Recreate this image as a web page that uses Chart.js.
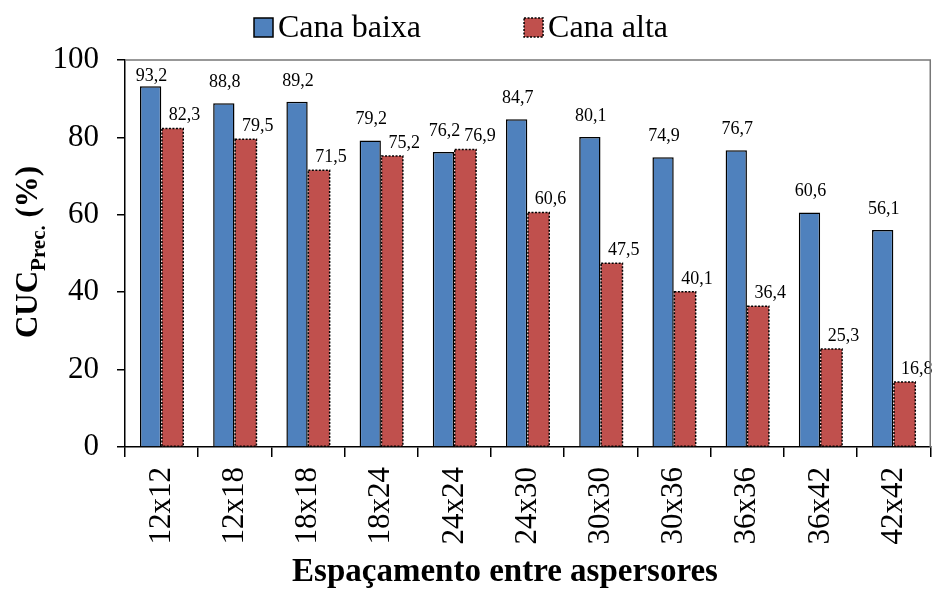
<!DOCTYPE html>
<html>
<head>
<meta charset="utf-8">
<script src="https://cdn.jsdelivr.net/npm/chart.js@4.4.1/dist/chart.umd.min.js"></script>
<style>
  html, body { margin: 0; padding: 0; background: #fff; }
  #wrap { width: 941px; height: 595px; }
</style>
</head>
<body>
<div id="wrap"><canvas id="chart" width="941" height="595"></canvas></div>
<script>
const espacamentos = ['12x12', '12x18', '18x18', '18x24', '24x24', '24x30', '30x30', '30x36', '36x36', '36x42', '42x42'];
const canaBaixa = [93.2, 88.8, 89.2, 79.2, 76.2, 84.7, 80.1, 74.9, 76.7, 60.6, 56.1];
const canaAlta = [82.3, 79.5, 71.5, 75.2, 76.9, 60.6, 47.5, 40.1, 36.4, 25.3, 16.8];
const yTicks = [0, 20, 40, 60, 80, 100];

const serif = "'Liberation Serif', 'Times New Roman', serif";
const azul = '#4F81BD';
const vermelho = '#C0504D';
const pontilhado = [2, 1.5];

const fmt = v => v.toFixed(1).replace('.', ',');

// borda pontilhada da serie "Cana alta" + rotulos de valor
const barExtras = {
  id: 'barExtras',
  afterDatasetsDraw(chart) {
    const ctx = chart.ctx;
    const area = chart.chartArea;
    ctx.save();
    const alta = chart.getDatasetMeta(1);
    ctx.strokeStyle = '#000';
    ctx.lineWidth = 1.5;
    ctx.setLineDash(pontilhado);
    alta.data.forEach(bar => {
      ctx.strokeRect(bar.x - bar.width / 2, bar.y, bar.width, bar.base - bar.y);
    });
    ctx.setLineDash([]);

    ctx.fillStyle = '#000';
    ctx.font = '18px ' + serif;
    ctx.textAlign = 'center';
    ctx.textBaseline = 'alphabetic';
    const baixaPos = [];
    chart.getDatasetMeta(0).data.forEach((bar, i) => {
      const t = fmt(canaBaixa[i]);
      const y = Math.max(bar.y - 16, area.top + 21);
      const x = bar.x + 1;
      ctx.fillText(t, x, y);
      baixaPos.push({ right: x + ctx.measureText(t).width / 2, y });
    });
    alta.data.forEach((bar, i) => {
      const t = fmt(canaAlta[i]);
      const w = ctx.measureText(t).width;
      let x = bar.x + 12;
      const y = bar.y - 8;
      const b = baixaPos[i];
      // evita sobrepor o rotulo da outra serie
      if (Math.abs(y - b.y) < 18 && x - w / 2 < b.right + 4) {
        x = b.right + 4 + w / 2;
      }
      ctx.fillText(t, x, y);
    });
    ctx.restore();
  }
};

// moldura, legenda e titulos dos eixos (y com subscrito)
const frameAndTitle = {
  id: 'frameAndTitle',
  afterDraw(chart) {
    const ctx = chart.ctx;
    const a = chart.chartArea;
    ctx.save();
    ctx.strokeStyle = '#777';
    ctx.lineWidth = 1.5;
    ctx.beginPath();
    ctx.moveTo(a.left, a.top);
    ctx.lineTo(a.right, a.top);
    ctx.lineTo(a.right, a.bottom);
    ctx.stroke();

    // legenda
    ctx.font = '32px ' + serif;
    ctx.textBaseline = 'middle';
    ctx.textAlign = 'left';
    const box = 19, gap = 5, itemGap = 103;
    const items = chart.data.datasets.map(ds => ({ ds, w: ctx.measureText(ds.label).width }));
    const total = items.reduce((s, it) => s + box + gap + it.w, 0) + itemGap * (items.length - 1);
    let lx = 461 - total / 2;
    items.forEach((it, i) => {
      ctx.fillStyle = it.ds.backgroundColor;
      ctx.fillRect(lx, 18, box, box);
      ctx.strokeStyle = '#000';
      ctx.lineWidth = 1.5;
      ctx.setLineDash(i === 1 ? pontilhado : []);
      ctx.strokeRect(lx, 18, box, box);
      ctx.setLineDash([]);
      ctx.fillStyle = '#000';
      ctx.fillText(it.ds.label, lx + box + gap, 29);
      lx += box + gap + it.w + itemGap;
    });

    // titulo do eixo x
    ctx.font = 'bold 33px ' + serif;
    ctx.textAlign = 'center';
    ctx.textBaseline = 'alphabetic';
    ctx.fillText('Espaçamento entre aspersores', 505, 581);

    // titulo do eixo y
    ctx.translate(37, 252);
    ctx.rotate(-Math.PI / 2);
    const big = 'bold 31px ' + serif;
    const small = 'bold 21px ' + serif;
    ctx.font = big;
    const w1 = ctx.measureText('CUC').width;
    const w3 = ctx.measureText(' (%)').width;
    ctx.font = small;
    const w2 = ctx.measureText('Prec.').width;
    let x = -(w1 + w2 + w3) / 2;
    ctx.textAlign = 'left';
    ctx.font = big;
    ctx.fillText('CUC', x, 0);
    x += w1;
    ctx.font = small;
    ctx.fillText('Prec.', x, 8);
    x += w2;
    ctx.font = big;
    ctx.fillText(' (%)', x, 0);
    ctx.restore();
  }
};

new Chart(document.getElementById('chart'), {
  type: 'bar',
  data: {
    labels: espacamentos,
    datasets: [
      {
        label: 'Cana baixa',
        data: canaBaixa,
        backgroundColor: azul,
        borderColor: '#000',
        borderWidth: 1.5,
        categoryPercentage: 0.6,
        barPercentage: 0.97
      },
      {
        label: 'Cana alta',
        data: canaAlta,
        backgroundColor: vermelho,
        borderWidth: 0,
        categoryPercentage: 0.6,
        barPercentage: 0.97
      }
    ]
  },
  options: {
    responsive: false,
    animation: false,
    layout: { padding: { top: 60, right: 3, left: 0, bottom: 0 } },
    plugins: {
      tooltip: { enabled: false },
      legend: { display: false }
    },
    scales: {
      x: {
        grid: { drawOnChartArea: false, drawTicks: true, tickLength: 10, color: '#000', lineWidth: 1.5, offset: true },
        border: { color: '#000', width: 1.5 },
        ticks: {
          font: { family: serif, size: 31 },
          color: '#000',
          minRotation: 90,
          maxRotation: 90,
          padding: 10
        },
        afterFit(scale) { scale.height = 148; }
      },
      y: {
        min: 0,
        max: 100,
        grid: { drawOnChartArea: false, drawTicks: true, tickLength: 8, color: '#000', lineWidth: 1.5 },
        border: { color: '#000', width: 1.5 },
        afterBuildTicks(scale) { scale.ticks = yTicks.map(v => ({ value: v })); },
        ticks: {
          font: { family: serif, size: 31 },
          color: '#000',
          padding: 18
        },
        afterFit(scale) { scale.width = 125; }
      }
    }
  },
  plugins: [barExtras, frameAndTitle]
});
</script>
</body>
</html>
